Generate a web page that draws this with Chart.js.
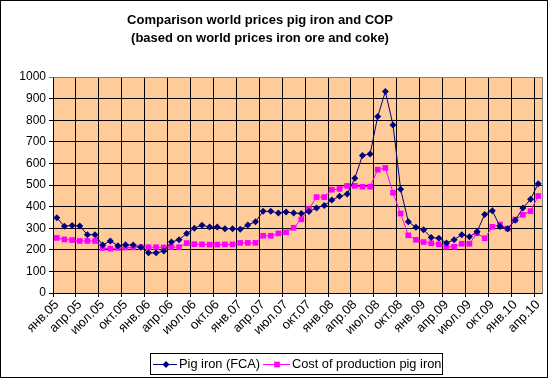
<!DOCTYPE html>
<html><head><meta charset="utf-8">
<script src="https://cdn.jsdelivr.net/npm/chart.js@4/dist/chart.umd.min.js"></script>
<style>html,body{margin:0;padding:0;background:#fff}canvas{display:block}</style>
</head><body>
<canvas id="c" width="550" height="379"></canvas>
<script>
const categories = [
 'янв.05','фев.05','мар.05','апр.05','май.05','июн.05','июл.05','авг.05','сен.05','окт.05','ноя.05','дек.05',
 'янв.06','фев.06','мар.06','апр.06','май.06','июн.06','июл.06','авг.06','сен.06','окт.06','ноя.06','дек.06',
 'янв.07','фев.07','мар.07','апр.07','май.07','июн.07','июл.07','авг.07','сен.07','окт.07','ноя.07','дек.07',
 'янв.08','фев.08','мар.08','апр.08','май.08','июн.08','июл.08','авг.08','сен.08','окт.08','ноя.08','дек.08',
 'янв.09','фев.09','мар.09','апр.09','май.09','июн.09','июл.09','авг.09','сен.09','окт.09','ноя.09','дек.09',
 'янв.10','фев.10','мар.10','апр.10'
];
const pigIron = [348,309,313,310,270,270, 222,241,219,223,222,212, 186,186,194,236,247,275, 300,314,305,305,298,298,
 295,315,330,378,378,370, 375,370,368,377,394,405, 430,448,458,531,637,643, 817,933,778,480,330,304,
 293,257,253,232,247,270, 260,284,364,381,308,298, 337,393,434,506];
const costOfProduction = [255,248,245,241,241,241, 208,205,209,211,211,212, 212,212,211,212,212,231, 226,225,224,224,225,225,
 232,232,232,265,265,276, 281,302,341,389,444,444, 478,482,496,496,492,492, 571,579,464,368,267,246,
 236,230,225,214,214,228, 228,277,253,306,317,298, 340,362,379,449];
const seriesNames = ['Pig iron (FCA)', 'Cost of production pig iron'];
const titleLines = ['Comparison world prices pig iron and COP', '(based on world prices iron ore and coke)'];
const yTicks = {min: 0, max: 1000, step: 100};

const FONT = "'Liberation Sans', Arial, sans-serif";

const decor = {
  id: 'decor',
  beforeDraw(chart) {
    const ctx = chart.ctx, a = chart.chartArea;
    ctx.save();
    ctx.fillStyle = '#fff';
    ctx.fillRect(0, 0, chart.width, chart.height);
    ctx.fillStyle = '#FFCC99';
    ctx.fillRect(a.left, a.top, a.right - a.left, a.bottom - a.top);
    ctx.restore();
  },
  afterDraw(chart) {
    const ctx = chart.ctx, a = chart.chartArea;
    ctx.save();
    ctx.strokeStyle = '#808080';
    ctx.lineWidth = 1;
    ctx.beginPath();
    ctx.moveTo(Math.round(a.left) + 0.5, Math.round(a.top) + 0.5);
    ctx.lineTo(Math.round(a.right) + 0.5, Math.round(a.top) + 0.5);
    ctx.lineTo(Math.round(a.right) + 0.5, Math.round(a.bottom) + 0.5);
    ctx.stroke();
    // title
    ctx.fillStyle = '#000';
    ctx.font = 'bold 13px ' + FONT;
    ctx.textAlign = 'center';
    ctx.textBaseline = 'middle';
    ctx.fillText(titleLines[0], 260, 20.5);
    ctx.fillText(titleLines[1], 260, 38);
    // legend
    ctx.strokeStyle = '#000';
    ctx.fillStyle = '#fff';
    ctx.fillRect(150.5, 353.5, 292, 21);
    ctx.strokeRect(150.5, 353.5, 292, 21);
    const ly = 364.5;
    const ds = chart.data.datasets;
    const items = [{x1: 153, x2: 177, mx: 166, tx: 179, d: ds[0]}, {x1: 263, x2: 290, mx: 277, tx: 292, d: ds[1]}];
    items.forEach(it => {
      ctx.strokeStyle = it.d.borderColor;
      ctx.lineWidth = 1;
      ctx.beginPath(); ctx.moveTo(it.x1, ly); ctx.lineTo(it.x2, ly); ctx.stroke();
      ctx.fillStyle = it.d.borderColor;
      Chart.helpers.drawPoint(ctx, {pointStyle: it.d.pointStyle, radius: it.d.pointRadius, rotation: 0, borderWidth: 0}, it.mx, ly);
      ctx.fillStyle = '#000';
      ctx.font = '12.8px ' + FONT;
      ctx.textAlign = 'left';
      ctx.textBaseline = 'middle';
      ctx.fillText(it.d.label, it.tx, ly);
    });
    ctx.strokeStyle = '#000';
    ctx.strokeRect(0.5, 0.5, 547, 377);
    ctx.restore();
  }
};

new Chart(document.getElementById('c'), {
  type: 'line',
  data: {
    labels: categories,
    datasets: [
      {label: seriesNames[0], data: pigIron, borderColor: '#000080', backgroundColor: '#000080',
       borderWidth: 1, pointStyle: 'rectRot', pointRadius: 3.5, pointBorderWidth: 0, tension: 0},
      {label: seriesNames[1], data: costOfProduction, borderColor: '#FF00FF', backgroundColor: '#FF00FF',
       borderWidth: 1, pointStyle: 'rect', pointRadius: 4, pointBorderWidth: 0, tension: 0}
    ]
  },
  options: {
    responsive: false,
    animation: false,
    layout: {padding: {top: 77, left: 0, right: 8, bottom: 36}},
    plugins: {legend: {display: false}, title: {display: false}, tooltip: {enabled: false}},
    scales: {
      x: {
        offset: true,
        grid: {offset: true, color: c => (c.index % 3 === 0 ? '#000' : 'rgba(0,0,0,0)'), lineWidth: 1, tickLength: 4},
        border: {color: '#000'},
        ticks: {autoSkip: false, maxRotation: 45, minRotation: 45, color: '#000', padding: 0,
          font: {family: FONT, size: 13},
          callback: function (v, i) { return i % 3 === 0 ? this.getLabelForValue(v) : ''; }},
        afterFit: s => { s.height = 50; }
      },
      y: {
        min: yTicks.min, max: yTicks.max,
        ticks: {stepSize: yTicks.step, color: '#000', padding: 3, font: {family: FONT, size: 12},
          callback: v => String(v)},
        grid: {color: c => (c.tick && c.tick.value === 1000 ? '#808080' : '#000'), lineWidth: 1, tickLength: 4},
        border: {color: '#000'},
        afterFit: s => { s.width = 53; }
      }
    }
  },
  plugins: [decor]
});
</script>
</body></html>
